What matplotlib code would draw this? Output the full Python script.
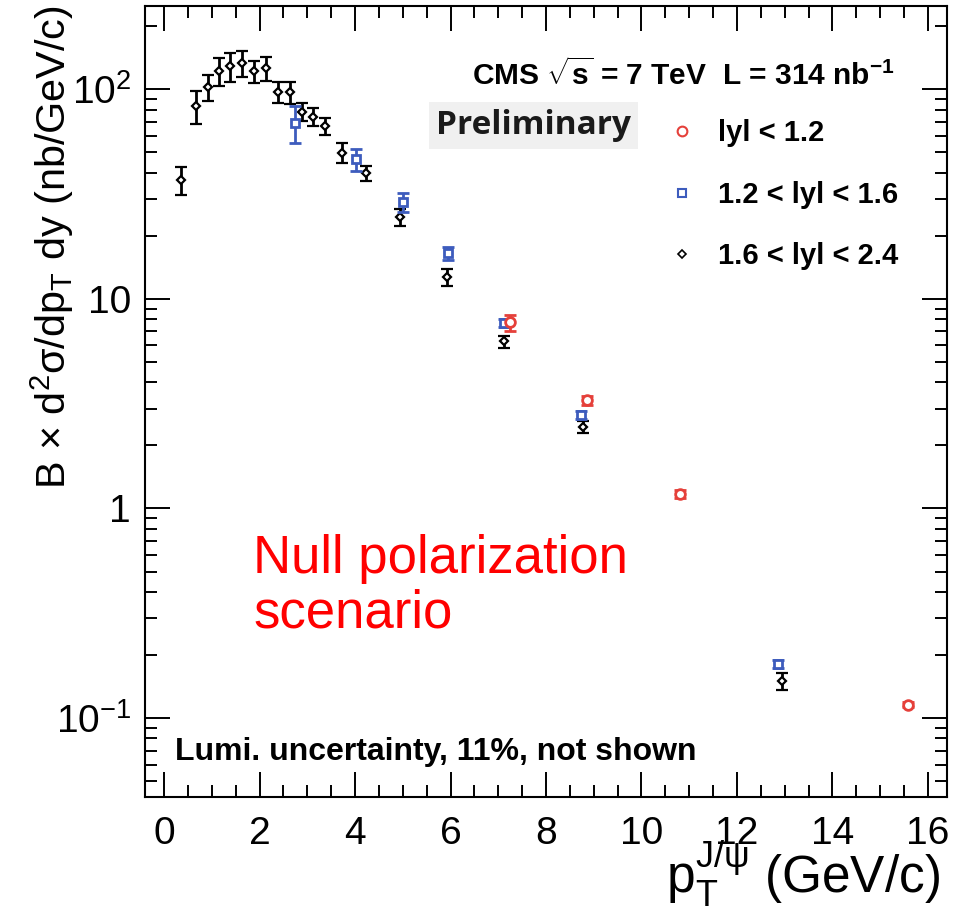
import numpy as np
import matplotlib
matplotlib.use("Agg")
from matplotlib import pyplot as plt
from matplotlib.lines import Line2D
from matplotlib.ticker import MultipleLocator, LogLocator, FixedLocator, FixedFormatter, NullFormatter

plt.rcParams['font.family'] = ['Liberation Sans', 'DejaVu Sans']
plt.rcParams['mathtext.fontset'] = 'custom'
plt.rcParams['mathtext.rm'] = 'Liberation Sans'
plt.rcParams['mathtext.it'] = 'Liberation Sans'
plt.rcParams['mathtext.bf'] = 'Liberation Sans:bold'

# |y| < 1.2
red_x = [7.24, 8.86, 10.81, 15.59]
red_y = [7.72, 3.28, 1.17, 0.116]
red_err = [0.66, 0.15, 0.05, 0.003]

# 1.2 < |y| < 1.6
blue_x = [2.74, 4.02, 5.01, 5.94, 7.13, 8.74, 12.87]
blue_y = [69.2, 46.5, 29.0, 16.5, 7.7, 2.8, 0.182]
blue_err = [14.0, 5.7, 3.1, 1.1, 0.35, 0.12, 0.008]

# 1.6 < |y| < 2.4
black_x = [0.36, 0.67, 0.91, 1.15, 1.39, 1.64, 1.89, 2.13, 2.38, 2.64,
           2.88, 3.12, 3.37, 3.72, 4.23, 4.94, 5.93, 7.13, 8.77, 12.94]
black_y = [36.9, 83.6, 102.6, 122.7, 128.6, 133, 122, 126, 97, 97,
           78.3, 74.2, 66.9, 49.8, 39.8, 24.5, 12.7, 6.27, 2.45, 0.150]
black_err = [5.5, 15, 15, 19, 20, 19, 15, 16, 11, 12,
             8, 7.3, 6.4, 5.5, 3.1, 2.3, 1.15, 0.41, 0.16, 0.014]

labels = ["lyl < 1.2", "1.2 < lyl < 1.6", "1.6 < lyl < 2.4"]
red = "#e5403a"
blue = "#3d5cbd"

fig = plt.figure(figsize=(9.63, 9.14), dpi=100)
ax = fig.add_axes([145/963, 1-797/914, 802/963, 791/914])
ax.set_yscale('log')
ax.set_xlim(-0.4, 16.4)
ax.set_ylim(0.042, 250)

ax.errorbar(black_x, black_y, yerr=black_err, fmt='D', ms=4.5, mfc='white', mec='black',
            mew=1.6, ecolor='black', elinewidth=2, capsize=4, capthick=2, zorder=3)
ax.errorbar(blue_x, blue_y, yerr=blue_err, fmt='s', ms=6, mfc='white', mec=blue,
            mew=2, ecolor=blue, elinewidth=2, capsize=4, capthick=2, zorder=4)
ax.errorbar(red_x, red_y, yerr=red_err, fmt='o', ms=7, mfc='white', mec=red,
            mew=2, ecolor=red, elinewidth=2, capsize=4, capthick=2, zorder=5)

# axis style, ROOT like
for s in ax.spines.values():
    s.set_linewidth(1.5)
ax.xaxis.set_major_locator(MultipleLocator(2))
ax.xaxis.set_minor_locator(MultipleLocator(0.5))
ax.yaxis.set_major_locator(FixedLocator([0.1, 1, 10, 100]))
ax.yaxis.set_major_formatter(FixedFormatter([r"$10^{-1}$", "1", "10", r"$10^{2}$"]))
ax.yaxis.set_minor_locator(LogLocator(base=10, subs=np.arange(2, 10)))
ax.yaxis.set_minor_formatter(NullFormatter())
ax.tick_params(which='both', direction='in', top=True, right=True, width=1.4, labelsize=28)
ax.tick_params(which='major', length=18)
ax.tick_params(which='minor', length=8.5)
ax.tick_params(axis='x', pad=14)
ax.tick_params(axis='y', pad=10)

fig.text(52/963, 1-5/914, r"B $\times$ d$^{2}\sigma$/dp$_{\mathrm{T}}$ dy (nb/GeV/c)",
         rotation=90, ha='center', va='top', fontsize=29.8)
fig.text(940/963, 1-893/914, r"p$_{\mathrm{T}}^{\mathrm{J/\psi}}$ (GeV/c)",
         ha='right', va='baseline', fontsize=37)

ax.text(0.935, 0.900, r"CMS $\sqrt{\mathbf{s}}$ = 7 TeV  L = 314 nb$^{\mathbf{-1}}$",
        transform=ax.transAxes, ha='right', va='baseline', fontsize=21.5, fontweight='bold')
ax.text(0.363, 0.838, "Preliminary", transform=ax.transAxes, ha='left', va='baseline',
        fontsize=24, fontweight='bold', color='#1a1a1a', family=['Open Sans', 'DejaVu Sans'],
        bbox=dict(facecolor='#f0f0f0', edgecolor='none', pad=5))
ax.text(0.037, 0.047, "Lumi. uncertainty, 11%, not shown", transform=ax.transAxes,
        ha='left', va='baseline', fontsize=23, fontweight='bold')
ax.text(0.135, 0.214, "Null polarization\nscenario", transform=ax.transAxes,
        ha='left', va='baseline', fontsize=38, color='red', linespacing=1.12)

handles = [Line2D([], [], ls='none', marker='o', ms=7, mfc='white', mec=red, mew=1.5),
           Line2D([], [], ls='none', marker='s', ms=6, mfc='white', mec=blue, mew=1.5),
           Line2D([], [], ls='none', marker='D', ms=4, mfc='white', mec='black', mew=1.2)]
leg = ax.legend(handles, labels, loc='upper left', bbox_to_anchor=(0.619, 0.89),
                frameon=False, handlelength=1.0, handletextpad=0.72, labelspacing=1.15,
                prop=dict(size=21, weight='bold'))

fig.savefig("out.png", dpi=100)
